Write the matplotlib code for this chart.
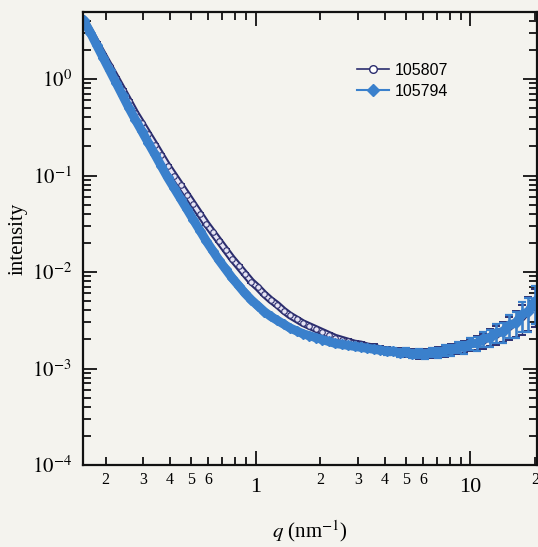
import matplotlib
matplotlib.use('Agg')
import matplotlib.pyplot as plt
import numpy as np
from matplotlib.ticker import FixedLocator, FuncFormatter, NullFormatter
from matplotlib.lines import Line2D

# ---------------- data ----------------
q_values = [0.158, 0.170, 0.182, 0.195, 0.209, 0.224, 0.240, 0.257, 0.275, 0.295,
            0.316, 0.339, 0.363, 0.389, 0.417, 0.447, 0.479, 0.513, 0.550, 0.589,
            0.631, 0.676, 0.724, 0.776, 0.832, 0.891, 0.955, 1.023, 1.096, 1.175,
            1.259, 1.349, 1.445, 1.549, 1.660, 1.778, 1.905, 2.042, 2.188, 2.344,
            2.512, 2.692, 2.884, 3.090, 3.311, 3.548, 3.802, 4.074, 4.365, 4.677,
            5.012, 5.370, 5.754, 6.166, 6.607, 7.079, 7.586, 8.128, 8.710, 9.333,
            10.00, 10.72, 11.48, 12.30, 13.18, 14.13, 15.14, 16.22, 17.38, 18.62,
            19.95]

# log10(intensity) of sample 105794 (filled diamonds)
log_int_105794 = [0.61, 0.48, 0.35, 0.22, 0.09, -0.04, -0.17, -0.30, -0.42, -0.54,
                  -0.66, -0.78, -0.90, -1.02, -1.13, -1.24, -1.35, -1.46, -1.57, -1.68,
                  -1.78, -1.88, -1.97, -2.06, -2.14, -2.22, -2.29, -2.35, -2.41, -2.46,
                  -2.50, -2.54, -2.58, -2.61, -2.64, -2.66, -2.68, -2.70, -2.72, -2.74,
                  -2.75, -2.76, -2.77, -2.78, -2.79, -2.80, -2.81, -2.82, -2.82, -2.84,
                  -2.83, -2.85, -2.84, -2.85, -2.83, -2.84, -2.81, -2.81, -2.78, -2.78,
                  -2.74, -2.74, -2.69, -2.68, -2.63, -2.62, -2.55, -2.53, -2.44, -2.41,
                  -2.30]

# log10(intensity) of sample 105807 (open circles)
log_int_105807 = [0.61, 0.49, 0.37, 0.25, 0.13, 0.01, -0.11, -0.23, -0.35, -0.46,
                  -0.57, -0.68, -0.79, -0.90, -1.00, -1.10, -1.20, -1.30, -1.40, -1.50,
                  -1.59, -1.68, -1.77, -1.86, -1.94, -2.02, -2.10, -2.16, -2.23, -2.29,
                  -2.34, -2.40, -2.45, -2.49, -2.53, -2.56, -2.59, -2.62, -2.65, -2.68,
                  -2.70, -2.72, -2.74, -2.75, -2.77, -2.78, -2.80, -2.81, -2.82, -2.83,
                  -2.84, -2.84, -2.85, -2.84, -2.84, -2.83, -2.82, -2.80, -2.79, -2.77,
                  -2.75, -2.73, -2.71, -2.67, -2.65, -2.61, -2.57, -2.52, -2.47, -2.40,
                  -2.33]

# relative error bar size
rel_err = [0.02] * 37 + [0.03, 0.035, 0.04, 0.045, 0.05, 0.055, 0.06, 0.065, 0.07, 0.075,
                         0.08, 0.085, 0.09, 0.095, 0.10, 0.105, 0.11, 0.115, 0.12, 0.125,
                         0.13, 0.135, 0.14, 0.15, 0.16, 0.18, 0.20, 0.22, 0.24, 0.27,
                         0.30, 0.34, 0.38, 0.42]

labels = ['105807', '105794']
x_major_ticks = [1, 10]
y_major_ticks = [1e-4, 1e-3, 1e-2, 1e-1, 1e0]

# ---------------- style ----------------
plt.rcParams['font.family'] = ['Liberation Serif', 'DejaVu Serif']
plt.rcParams['mathtext.fontset'] = 'stix'

navy = '#2b2d6e'
blue = '#3a80cc'
light = '#e6e4f4'
bg = '#f4f3ee'

fig = plt.figure(figsize=(5.38, 5.47), dpi=100, facecolor=bg)
ax = fig.add_axes([83 / 538, 1 - 465 / 547, (537 - 83) / 538, (465 - 12) / 547])
ax.set_facecolor(bg)

q = np.array(q_values)
i_807 = 10 ** np.array(log_int_105807)
i_794 = 10 ** np.array(log_int_105794)
err = np.array(rel_err)

# sample 105807: navy-edged band of open circles
ax.errorbar(q, i_807, yerr=i_807 * err, fmt='none', ecolor=navy, elinewidth=1.0,
            capsize=3, capthick=1.4, zorder=2)
ax.plot(q, i_807, '-', color=navy, lw=5.5, solid_capstyle='round', zorder=3)
ax.plot(q, i_807, '-', color=light, lw=2.6, solid_capstyle='round', zorder=3.1)
ax.plot(q, i_807, 'o', ms=4.0, mfc=light, mec=navy, mew=0.8, zorder=3.2)

# sample 105794: solid blue band of diamonds
ax.errorbar(q, i_794, yerr=i_794 * err, fmt='none', ecolor=blue, elinewidth=1.8,
            capsize=3, capthick=1.6, zorder=4)
ax.plot(q, i_794, '-', color=blue, lw=6.5, solid_capstyle='round', zorder=5)
ax.plot(q, i_794, 'D', ms=5.2, mfc=blue, mec=blue, zorder=5.1)

ax.set_xscale('log')
ax.set_yscale('log')
ax.set_xlim(0.157, 20.4)
ax.set_ylim(1e-4, 4.95)

# x ticks
ax.xaxis.set_major_locator(FixedLocator(x_major_ticks))
ax.xaxis.set_major_formatter(FuncFormatter(lambda v, p: '%g' % v))
xminor = [m * d for d in (0.1, 1, 10) for m in range(2, 10)]
ax.xaxis.set_minor_locator(FixedLocator(xminor))


def minor_fmt(v, p):
    lead = int(round(v / 10 ** np.floor(np.log10(v) + 1e-9)))
    return str(lead) if lead in (2, 3, 4, 5, 6) else ''


ax.xaxis.set_minor_formatter(FuncFormatter(minor_fmt))

# y ticks
ax.yaxis.set_major_locator(FixedLocator(y_major_ticks))
ax.yaxis.set_major_formatter(FuncFormatter(lambda v, p: r'$10^{%d}$' % int(round(np.log10(v)))))
yminor = [m * d for d in (1e-4, 1e-3, 1e-2, 1e-1, 1) for m in range(2, 10)]
ax.yaxis.set_minor_locator(FixedLocator(yminor))
ax.yaxis.set_minor_formatter(NullFormatter())

ax.tick_params(which='both', direction='in', top=True, right=True, width=1.3, color='#111111')
ax.tick_params(which='major', length=10)
ax.tick_params(which='minor', length=5.5)
ax.tick_params(axis='x', which='major', labelsize=16, pad=9)
ax.tick_params(axis='x', which='minor', labelsize=11.5, pad=5)
ax.tick_params(axis='y', which='major', labelsize=15, pad=8)

for s in ax.spines.values():
    s.set_linewidth(1.6)
    s.set_color('#111111')
    s.set_zorder(6)

ax.set_xlabel(r'$q$ (nm$^{-1}$)', fontsize=15, labelpad=16)
ax.set_ylabel('intensity', fontsize=15, labelpad=3)

handles = [Line2D([], [], color=navy, lw=1.2, marker='o', ms=5.5, mfc='white', mec=navy),
           Line2D([], [], color=blue, lw=1.5, marker='D', ms=6, mfc=blue, mec=blue)]
ax.legend(handles, labels, loc='upper left', bbox_to_anchor=(0.585, 0.905), frameon=False,
          handlelength=2.0, handletextpad=0.4, labelspacing=0.35, borderpad=0,
          prop={'family': 'Liberation Sans', 'size': 11.5})

fig.savefig('out.png', dpi=100, facecolor=bg)
